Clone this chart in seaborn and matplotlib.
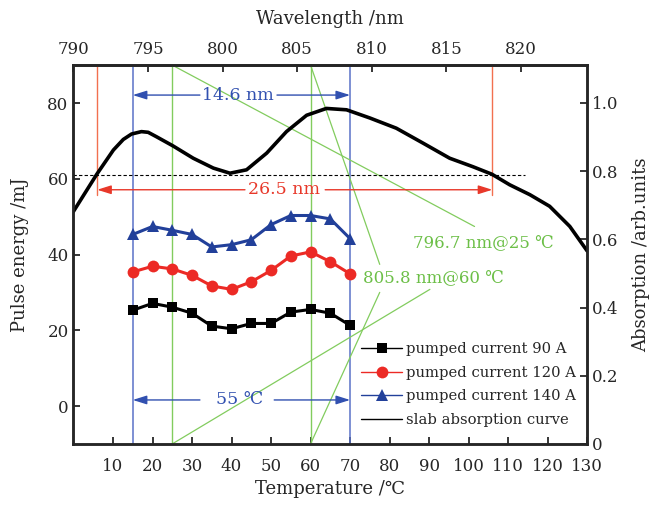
import numpy as np
import pandas as pd
import matplotlib
matplotlib.use("Agg")
import matplotlib.pyplot as plt
import seaborn as sns
from matplotlib.lines import Line2D
from matplotlib.ticker import FuncFormatter

# ---------------- data ----------------
temperature = [15, 20, 25, 30, 35, 40, 45, 50, 55, 60, 65, 70]
energy_90A = [25.3, 27.1, 26.1, 24.5, 21.1, 20.4, 21.8, 21.8, 24.8, 25.5, 24.5, 21.3]
energy_120A = [35.4, 36.9, 36.2, 34.5, 31.7, 30.8, 32.8, 35.8, 39.6, 40.7, 38.1, 34.9]
energy_140A = [45.3, 47.4, 46.4, 45.3, 42.0, 42.6, 43.9, 47.9, 50.3, 50.3, 49.4, 44.2]
series_labels = ["pumped current 90 A", "pumped current 120 A", "pumped current 140 A",
                 "slab absorption curve"]

abs_temperature = [0, 5.9, 10.1, 12.6, 14.7, 17.2, 18.9, 21, 25.2, 30.3, 35.4, 39.6, 43.8,
                   48.9, 53.9, 59, 64, 69.1, 75, 81.7, 88.5, 95.2, 101.1, 105.9, 110.4,
                   115.5, 120.5, 125.6, 130]
absorption = [0.682, 0.791, 0.862, 0.893, 0.909, 0.916, 0.914, 0.901, 0.874, 0.838, 0.809,
              0.794, 0.804, 0.853, 0.916, 0.964, 0.984, 0.980, 0.956, 0.926, 0.882, 0.838,
              0.813, 0.791, 0.760, 0.731, 0.697, 0.638, 0.566]

temp_ticks = [10, 20, 30, 40, 50, 60, 70, 80, 90, 100, 110, 120, 130]
energy_ticks = [0, 20, 40, 60, 80]
absorption_ticks = [0, 0.2, 0.4, 0.6, 0.8, 1.0]
wavelength_ticks = [790, 795, 800, 805, 810, 815, 820]
wl_start, wl_per_degree = 790.0, 0.265

half_level = 0.79            # absorption level of dashed line
bandwidth_temps = [6, 106]   # 26.5 nm
pump_temps = [15, 70]        # 14.6 nm / 55 C
mark_temps = [25, 60]        # 796.7 nm@25 C / 805.8 nm@60 C

# ---------------- style ----------------
sns.set_style("ticks")
plt.rcParams['font.family'] = ['DejaVu Serif', 'DejaVu Sans']
plt.rcParams['mathtext.fontset'] = 'dejavuserif'

BLACK = '#000000'
RED = '#ec2a25'
BLUE = '#22409a'
BLUE_L = '#5a72c8'
GREEN = '#82cc5e'
GREEN_T = '#6cbf47'
RED_L = '#f2704f'
BLUE_T = '#3150b0'
RED_T = '#e8382a'

fig = plt.figure(figsize=(6.68, 5.05), dpi=100)
ax = fig.add_axes([0.110, 0.121, 0.769, 0.750])
ax2 = ax.twinx()

ax.set_xlim(0, 130)
ax.set_ylim(-10, 90)
ax2.set_ylim(0, 1.111)

# guide lines (left-axis units)
for t in pump_temps:
    ax.plot([t, t], [-10, 90], color=BLUE_L, lw=1.1, zorder=1)
for t in mark_temps:
    ax.plot([t, t], [-10, 90], color=GREEN, lw=1.0, zorder=1)
for t in bandwidth_temps:
    ax.plot([t, t], [55.8, 90], color=RED_L, lw=1.0, zorder=1)

# green leader lines
ax.plot([25, 101.5], [90, 47.4], color=GREEN, lw=0.9, zorder=1)
ax.plot([60, 77.5], [90, 37.4], color=GREEN, lw=0.9, zorder=1)
ax.plot([25, 90.2], [-10, 30.8], color=GREEN, lw=0.9, zorder=1)
ax.plot([60, 77.5], [-10, 30.0], color=GREEN, lw=0.9, zorder=1)
ax.text(103.7, 43.2, "796.7 nm@25 ℃", color=GREEN_T, fontsize=12, ha='center', va='center')
ax.text(91.0, 33.9, "805.8 nm@60 ℃", color=GREEN_T, fontsize=12, ha='center', va='center')

def double_arrow(x0, x1, y, gap0, gap1, color, text, tx):
    ap = dict(arrowstyle='-|>,head_length=0.7,head_width=0.22', color=color, lw=1.0,
              shrinkA=0, shrinkB=0, mutation_scale=12)
    ax.annotate('', xy=(x0, y), xytext=(gap0, y), arrowprops=ap, zorder=3)
    ax.annotate('', xy=(x1, y), xytext=(gap1, y), arrowprops=ap, zorder=3)
    ax.text(tx, y, text, color=color, fontsize=12.5, ha='center', va='center', zorder=3)

double_arrow(pump_temps[0], pump_temps[1], 82.1, 32.0, 51.5, BLUE_T, "14.6 nm", 41.5)
double_arrow(bandwidth_temps[0], bandwidth_temps[1], 57.1, 43.4, 63.7, RED_T, "26.5 nm", 53.4)
double_arrow(pump_temps[0], pump_temps[1], 1.6, 32.0, 50.8, BLUE_T, "55 ℃", 42.0)

# series
sns.lineplot(x=temperature, y=energy_90A, ax=ax, color=BLACK, marker='s', markersize=7,
             markeredgewidth=0, linewidth=2.2, zorder=4)
sns.lineplot(x=temperature, y=energy_120A, ax=ax, color=RED, marker='o', markersize=8.5,
             markeredgewidth=0, linewidth=2.2, zorder=4)
sns.lineplot(x=temperature, y=energy_140A, ax=ax, color=BLUE, marker='^', markersize=9,
             markeredgewidth=0, linewidth=2.2, zorder=4)

# absorption curve
ax2.plot([0, 114.3], [half_level, half_level], color=BLACK, lw=0.8, ls=(0, (3, 2)))
sns.lineplot(x=abs_temperature, y=absorption, ax=ax2, color=BLACK, linewidth=2.6)

# axes formatting
ax.set_xticks(temp_ticks)
ax.set_yticks(energy_ticks)
ax2.set_yticks(absorption_ticks)
ax2.yaxis.set_major_formatter(FuncFormatter(lambda v, p: '0' if v == 0 else f'{v:.1f}'))
ax.set_xlabel("Temperature /℃", fontsize=13, labelpad=4)
ax.set_ylabel("Pulse energy /mJ", fontsize=13, labelpad=13)
ax2.set_ylabel("Absorption /arb.units", fontsize=13, labelpad=10)

ax.tick_params(axis='both', direction='in', length=5, width=1.3, labelsize=12,
               top=False, right=False)
ax.tick_params(axis='x', pad=10)
ax2.tick_params(axis='y', direction='in', length=5, width=1.3, labelsize=12)

sec = ax.secondary_xaxis('top', functions=(lambda t: wl_start + wl_per_degree * t,
                                           lambda w: (w - wl_start) / wl_per_degree))
sec.set_xticks(wavelength_ticks)
sec.tick_params(direction='in', length=5, width=1.3, labelsize=12, pad=5.5)
sec.set_xlabel("Wavelength /nm", fontsize=13, labelpad=12)

for a in (ax, ax2):
    for s in a.spines.values():
        s.set_linewidth(1.8)
sec.spines['top'].set_linewidth(1.8)

handles = [
    Line2D([], [], color=BLACK, lw=1.0, marker='s', markersize=7, markeredgewidth=0),
    Line2D([], [], color=RED, lw=1.0, marker='o', markersize=8.5, markeredgewidth=0),
    Line2D([], [], color=BLUE, lw=1.0, marker='^', markersize=9, markeredgewidth=0),
    Line2D([], [], color=BLACK, lw=1.0),
]
ax2.legend(handles, series_labels, loc='upper left', bbox_to_anchor=(0.560, 0.268),
           frameon=False, fontsize=10.6, handlelength=2.8, handletextpad=0.25,
           labelspacing=0.64, borderpad=0, borderaxespad=0)

fig.savefig("out.png", dpi=100)
